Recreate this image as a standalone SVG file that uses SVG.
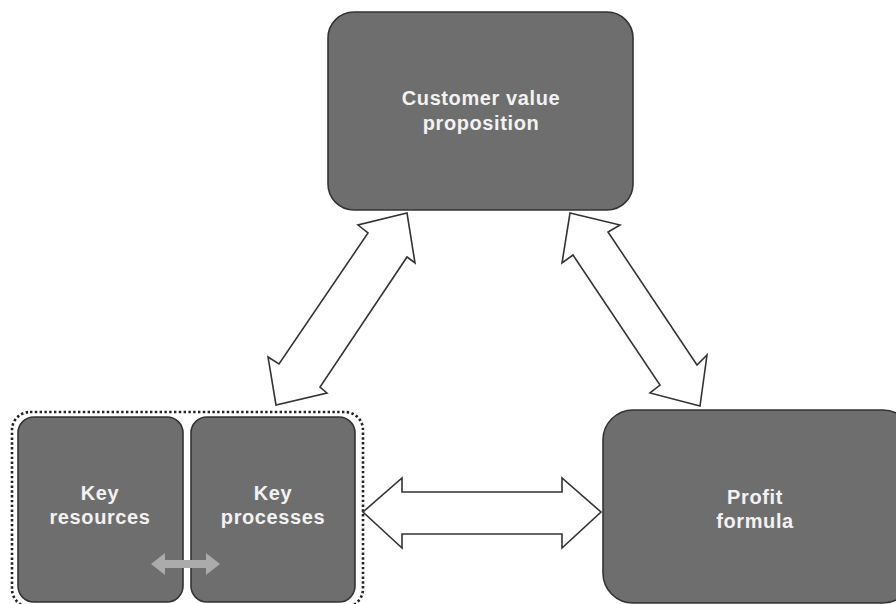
<svg xmlns="http://www.w3.org/2000/svg" width="896" height="604" viewBox="0 0 896 604">
<style>
.box{fill:#6e6e6e;stroke:#333;stroke-width:1.6}
.lbl{fill:#f2f2f2;font-family:"Liberation Sans",Arial,sans-serif;font-weight:bold;font-size:20px;letter-spacing:0.6px;text-anchor:middle}
.arr{fill:#fff;stroke:#333;stroke-width:1.6;stroke-linejoin:miter}
</style>
<rect width="896" height="604" fill="#fff"/>
<g id="group-key">
<rect x="12" y="412" width="351" height="195" rx="18" fill="none" stroke="#222" stroke-width="2.6" stroke-dasharray="2.4 2.4"/>
</g>
<g id="node-cvp">
<rect class="box" x="328" y="12" width="305" height="198" rx="26"/>
<text class="lbl" x="481" y="105">Customer value</text>
<text class="lbl" x="481" y="130">proposition</text>
</g>
<g id="node-resources">
<rect class="box" x="18" y="417" width="165" height="185" rx="16"/>
<text class="lbl" x="100" y="500">Key</text>
<text class="lbl" x="100" y="524">resources</text>
</g>
<g id="node-processes">
<rect class="box" x="191" y="417" width="164" height="185" rx="16"/>
<text class="lbl" x="273" y="500">Key</text>
<text class="lbl" x="273" y="524">processes</text>
</g>
<g id="node-profit">
<rect class="box" x="603" y="410" width="310" height="193" rx="30"/>
<text class="lbl" x="755" y="504">Profit</text>
<text class="lbl" x="755" y="528">formula</text>
</g>
<g id="connectors">
<polygon class="arr" points="363,512 402,478 402,492 562,492 562,478 601,512 562,548 562,534 402,534 402,548"/>
<polygon class="arr" points="407,213 415,263 407,257 320,387 327,393 276,405 268,357 279,364 368,233 358,225"/>
<polygon class="arr" points="570,213 620,225 608,232 697,365 707,355 700,406 650,393 660,385 573,255 562,263"/>
<polygon fill="#ababab" points="151,564 165,553 165,560 206,560 206,553 220,564 206,575 206,568 165,568 165,575"/>
</g>
</svg>
